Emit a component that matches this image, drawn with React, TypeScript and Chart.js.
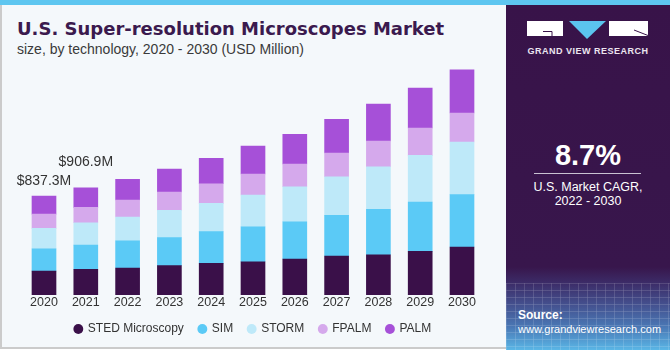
import React, { useEffect, useRef } from "react";
import { Chart, registerables } from "chart.js";

Chart.register(...registerables);

const years = ["2020", "2021", "2022", "2023", "2024", "2025", "2026", "2027", "2028", "2029", "2030"];
const sted = [202.3, 218.5, 228.7, 248.2, 268.5, 282.0, 304.9, 330.3, 341.3, 370.1, 406.6];
const sim = [188.0, 204.0, 231.2, 237.2, 267.7, 296.5, 315.9, 344.7, 384.5, 417.6, 443.0];
const storm = [174.5, 189.6, 200.7, 232.1, 240.5, 268.5, 296.5, 326.9, 360.8, 395.5, 446.4];
const fpalm = [120.6, 130.0, 144.0, 155.0, 166.0, 177.9, 192.3, 200.7, 217.7, 231.2, 245.6];
const palm = [151.9, 164.8, 175.3, 194.8, 215.1, 237.2, 251.6, 285.4, 313.4, 338.8, 366.8];
const seriesNames = ["STED Microscopy", "SIM", "STORM", "FPALM", "PALM"];
const totalLabels = ["$837.3M", "$906.9M"];

const colors = ["#3a1049", "#5bcaf6", "#bee9f9", "#d5a9ec", "#a650d8"];
const FONT = "'Liberation Sans', Arial, sans-serif";

const labelPlugin = {
  id: "totalLabels",
  afterDatasetsDraw(chart: any) {
    const meta = chart.getDatasetMeta(chart.data.datasets.length - 1);
    const offsets = [15, 26];
    const ctx = chart.ctx;
    ctx.save();
    ctx.font = `14px ${FONT}`;
    ctx.fillStyle = "#333333";
    ctx.textAlign = "center";
    ctx.textBaseline = "middle";
    totalLabels.forEach((t, i) => {
      const el = meta.data[i];
      if (el) ctx.fillText(t, el.x, el.y - offsets[i]);
    });
    ctx.restore();
  },
};

function BarChart() {
  const ref = useRef<HTMLCanvasElement | null>(null);
  useEffect(() => {
    if (!ref.current) return;
    const series = [sted, sim, storm, fpalm, palm];
    const chart = new Chart(ref.current, {
      type: "bar",
      data: {
        labels: years,
        datasets: series.map((d, i) => ({
          label: seriesNames[i],
          data: d,
          backgroundColor: colors[i],
          borderWidth: 0,
          barThickness: 24,
        })),
      },
      options: {
        animation: false,
        responsive: false,
        devicePixelRatio: 1,
        layout: { padding: { top: 4.8, left: 23.1, right: 22.1, bottom: 5 } },
        plugins: {
          tooltip: { enabled: false },
          legend: {
            position: "bottom",
            labels: {
              usePointStyle: true,
              pointStyle: "circle",
              boxWidth: 7,
              boxHeight: 7,
              padding: 15,
              color: "#333333",
              font: { family: FONT, size: 12 },
            },
          },
        },
        scales: {
          x: {
            stacked: true,
            grid: { display: false, drawTicks: false },
            border: { display: false },
            ticks: {
              color: "#333333",
              padding: 0,
              maxRotation: 0,
              autoSkip: false,
              font: { family: FONT, size: 12.5 },
            },
            afterFit: (s: any) => {
              s.height = 13;
            },
          },
          y: {
            stacked: true,
            display: false,
            min: 0,
            max: 1950,
          },
        },
      },
      plugins: [labelPlugin],
    });
    return () => chart.destroy();
  }, []);
  return (
    <canvas
      ref={ref}
      width={505}
      height={290}
      style={{ position: "absolute", left: 0, top: 60, width: 505, height: 290 }}
    />
  );
}

export default function App() {
  useEffect(() => {
    document.body.style.margin = "0";
  }, []);
  const abs = (o: any) => ({ position: "absolute" as const, ...o });
  return (
    <div style={{ position: "relative", width: 670, height: 350, overflow: "hidden", background: "#ffffff", fontFamily: FONT }}>
      <div
        style={abs({
          left: 0,
          top: 0,
          width: 670,
          height: 349,
          boxSizing: "border-box",
          background: "#f4f8fb",
          borderLeft: "2px solid #cbcbcb",
          borderRight: "2px solid #cbcbcb",
          borderBottom: "2px solid #cbcbcb",
        })}
      />
      <div style={abs({ left: 0, top: 0, width: 670, height: 5, background: "#5ec6f0" })} />
      <div
        style={abs({
          left: 17,
          top: 20,
          fontFamily: "'DejaVu Sans', sans-serif",
          fontWeight: 700,
          fontSize: 18,
          lineHeight: "18px",
          color: "#3b1a4e",
          whiteSpace: "nowrap",
        })}
      >
        U.S. Super-resolution Microscopes Market
      </div>
      <div
        style={abs({
          left: 17,
          top: 41.5,
          fontSize: 14,
          lineHeight: "14px",
          color: "#3a3a3a",
          whiteSpace: "nowrap",
        })}
      >
        size, by technology, 2020 - 2030 (USD Million)
      </div>
      <BarChart />
      {/* right panel */}
      <div
        style={abs({
          left: 506,
          top: 5,
          width: 164,
          height: 345,
          background:
            "linear-gradient(180deg, #381349 0px, #38164c 262px, #3c2c68 278px, #44518f 300px, #4a78b5 322px, #5ab6e6 345px)",
        })}
      />
      <div
        style={abs({
          left: 506,
          top: 283,
          width: 164,
          height: 67,
          opacity: 0.3,
          backgroundImage:
            "repeating-linear-gradient(90deg, rgba(255,255,255,0.45) 0px, rgba(255,255,255,0.45) 1px, transparent 1px, transparent 9px), repeating-linear-gradient(180deg, rgba(255,255,255,0.45) 0px, rgba(255,255,255,0.45) 1px, transparent 1px, transparent 7px)",
        })}
      />
      <svg style={abs({ left: 0, top: 0 })} width={670} height={60}>
        <rect x={527} y={21} width={36} height={15} fill="#ffffff" />
        <path d="M543 31.5 H552 V36" stroke="#381349" strokeWidth={1} fill="none" />
        <polygon points="569,21 606,21 587,39" fill="#5bc4ee" />
        <rect x={609} y={21} width={39} height={15} fill="#ffffff" />
        <path d="M634 30 L648 35.5" stroke="#381349" strokeWidth={1} fill="none" />
      </svg>
      <div
        style={abs({
          left: 506,
          width: 164,
          top: 46.7,
          textAlign: "center",
          fontSize: 9,
          lineHeight: "9px",
          fontWeight: 700,
          letterSpacing: 0.5,
          color: "#ece6f0",
          whiteSpace: "nowrap",
        })}
      >
        GRAND VIEW RESEARCH
      </div>
      <div
        style={abs({
          left: 506,
          width: 164,
          top: 141,
          textAlign: "center",
          fontSize: 29,
          lineHeight: "29px",
          fontWeight: 700,
          color: "#ffffff",
        })}
      >
        8.7%
      </div>
      <div style={abs({ left: 534, top: 173, width: 107, height: 1, background: "#c9c2d2" })} />
      <div
        style={abs({
          left: 506,
          width: 164,
          top: 180.5,
          textAlign: "center",
          fontSize: 12.5,
          lineHeight: "12.5px",
          color: "#ffffff",
          whiteSpace: "nowrap",
        })}
      >
        U.S. Market CAGR,
      </div>
      <div
        style={abs({
          left: 506,
          width: 164,
          top: 194.5,
          textAlign: "center",
          fontSize: 12.5,
          lineHeight: "12.5px",
          color: "#ffffff",
          whiteSpace: "nowrap",
        })}
      >
        2022 - 2030
      </div>
      <div
        style={abs({
          left: 518,
          top: 309.3,
          fontSize: 12,
          lineHeight: "12px",
          fontWeight: 700,
          color: "#ffffff",
          whiteSpace: "nowrap",
        })}
      >
        Source:
      </div>
      <div
        style={abs({
          left: 518,
          top: 324.2,
          fontSize: 11,
          lineHeight: "11px",
          color: "#ffffff",
          whiteSpace: "nowrap",
        })}
      >
        www.grandviewresearch.com
      </div>
    </div>
  );
}
